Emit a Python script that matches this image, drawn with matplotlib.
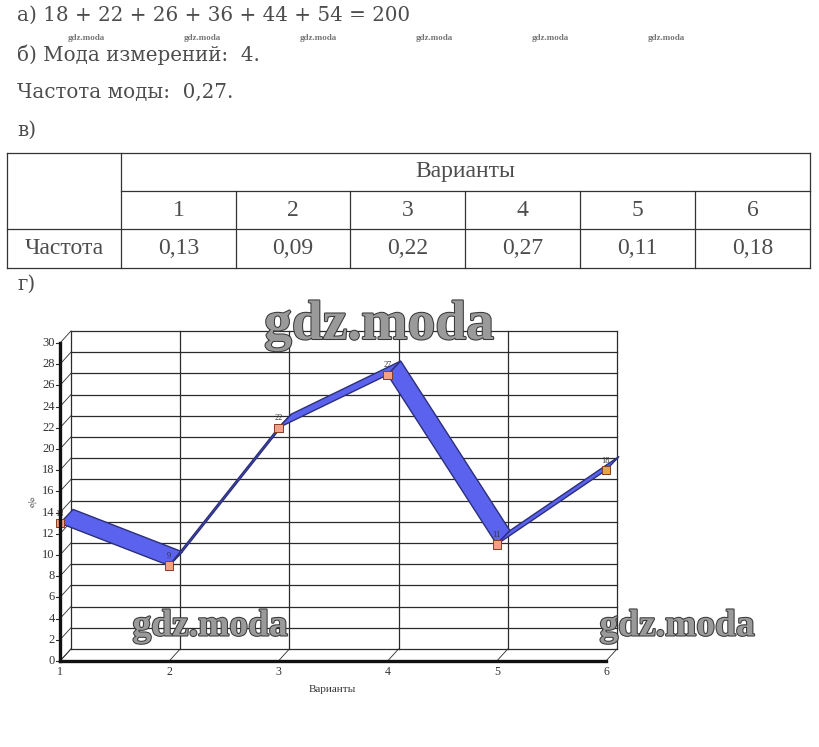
import matplotlib
matplotlib.use("Agg")
from matplotlib import pyplot as plt
from matplotlib.patches import Polygon
import matplotlib.patheffects as pe

W, H = 820, 747

# --- data ---
variants = [1, 2, 3, 4, 5, 6]
freq_labels = ["0,13", "0,09", "0,22", "0,27", "0,11", "0,18"]
percent = [13, 9, 22, 27, 11, 18]
y_ticks = list(range(0, 31, 2))

lines_text = ["а) 18 + 22 + 26 + 36 + 44 + 54 = 200",
              "б) Мода измерений:  4.",
              "Частота моды:  0,27.",
              "в)"]

TXT = "#4d4d4d"
SERIF = "Liberation Serif"

fig = plt.figure(figsize=(W / 100, H / 100), dpi=100)


def px(x, y):
    return x / W, 1 - y / H


# top text
for t, y in zip(lines_text, [15, 55, 92, 130]):
    fig.text(*px(17, y), t, fontsize=14.3, family="DejaVu Serif", color=TXT, va="center")
fig.text(*px(17, 284), "г)", fontsize=14.3, family="DejaVu Serif", color=TXT, va="center")

# small watermarks
for k in range(6):
    fig.text(*px(68 + 116 * k, 38), "gdz.moda", fontsize=6.5, family=SERIF,
             weight="bold", color="#777777", va="center")

# --- table ---
tab = fig.add_axes([0, 0, 1, 1])
tab.set_xlim(0, W)
tab.set_ylim(H, 0)
tab.axis("off")
col_x = [7, 121, 236, 350, 465, 580, 695, 810]
row_y = [153, 191, 229, 268]
lc = "#333333"
lw = 0.9
tab.plot([col_x[0], col_x[-1]], [row_y[0]] * 2, color=lc, lw=lw)
tab.plot([col_x[1], col_x[-1]], [row_y[1]] * 2, color=lc, lw=lw)
tab.plot([col_x[0], col_x[-1]], [row_y[2]] * 2, color=lc, lw=lw)
tab.plot([col_x[0], col_x[-1]], [row_y[3]] * 2, color=lc, lw=lw)
tab.plot([col_x[0]] * 2, [row_y[0], row_y[3]], color=lc, lw=lw)
tab.plot([col_x[1]] * 2, [row_y[0], row_y[3]], color=lc, lw=lw)
tab.plot([col_x[-1]] * 2, [row_y[0], row_y[3]], color=lc, lw=lw)
for cx in col_x[2:-1]:
    tab.plot([cx] * 2, [row_y[1], row_y[3]], color=lc, lw=lw)
tfs = 17
tab.text((col_x[1] + col_x[-1]) / 2, (row_y[0] + row_y[1]) / 2, "Варианты",
         fontsize=tfs, family=SERIF, color=TXT, ha="center", va="center")
tab.text((col_x[0] + col_x[1]) / 2, (row_y[2] + row_y[3]) / 2, "Частота",
         fontsize=tfs, family=SERIF, color=TXT, ha="center", va="center")
for i, (v, f) in enumerate(zip(variants, freq_labels)):
    cx = (col_x[i + 1] + col_x[i + 2]) / 2
    tab.text(cx, (row_y[1] + row_y[2]) / 2, str(v), fontsize=tfs, family=SERIF,
             color=TXT, ha="center", va="center")
    tab.text(cx, (row_y[2] + row_y[3]) / 2, f, fontsize=tfs, family=SERIF,
             color=TXT, ha="center", va="center")

# --- pseudo 3D line chart ---
ax = fig.add_axes([60 / W, (H - 661) / H, 546 / W, 318 / H])
ax.set_xlim(1, 6)
ax.set_ylim(0, 30)
ax.axis("off")
dx, dy = 0.1, 1.13
grid = "#2b2b2b"

# back wall
for yt in y_ticks:
    ax.plot([1 + dx, 6 + dx], [yt + dy] * 2, color=grid, lw=0.9, clip_on=False)
    ax.plot([1, 1 + dx], [yt, yt + dy], color=grid, lw=0.6, clip_on=False)
    ax.plot([0.96, 1], [yt, yt], color=grid, lw=0.8, clip_on=False)
    ax.text(0.95, yt, str(yt), fontsize=9, family=SERIF, color="#333333",
            ha="right", va="center")
for v in variants:
    ax.plot([v + dx] * 2, [dy, 30 + dy], color=grid, lw=0.9, clip_on=False)
    ax.plot([v, v + dx], [0, dy], color=grid, lw=0.6, clip_on=False)
    ax.text(v, -0.5, str(v), fontsize=8.5, family=SERIF, color="#333333",
            ha="center", va="top")

# ribbon
rdx, rdy = 0.12, 1.3
for i in range(len(variants) - 1):
    x0, x1 = variants[i], variants[i + 1]
    y0, y1 = percent[i], percent[i + 1]
    ax.add_patch(Polygon([(x0, y0), (x1, y1), (x1 + rdx, y1 + rdy), (x0 + rdx, y0 + rdy)],
                         closed=True, facecolor="#5a62ee", edgecolor="#2c2f7a",
                         lw=1.0, clip_on=False, zorder=3))

mcol = ["#f2a088"] * 5 + ["#e8a248"]
ax.scatter(variants, percent, s=36, marker="s", c=mcol, edgecolors="#8a3a20",
           linewidths=0.7, zorder=4, clip_on=False)
for v, p in zip(variants, percent):
    ax.annotate(str(p), (v, p), xytext=(0, 4), textcoords="offset points",
                fontsize=6, family=SERIF, color="#333333", ha="center",
                va="bottom", zorder=5)

# front axes
ax.plot([1, 1], [0, 30], color="#111111", lw=2.4, clip_on=False, zorder=5)
ax.plot([1, 6], [0, 0], color="#111111", lw=2.4, clip_on=False, zorder=5)

fig.text(*px(30, 503), "%", fontsize=8, family=SERIF, color="#333333",
         rotation=300, ha="center", va="center")
fig.text(*px(332, 690), "Варианты", fontsize=8, family=SERIF, color="#333333",
         ha="center", va="center")

# large watermarks
for x, y, s in [(379, 325, 40), (210, 626, 27), (677, 626, 27)]:
    fig.text(*px(x, y), "gdz.moda", fontsize=s, family=SERIF, weight="bold",
             color="#9a9a9a", ha="center", va="center", zorder=10,
             path_effects=[pe.withStroke(linewidth=1.5, foreground="#3a3a3a")])

fig.savefig("out.png", dpi=100)
